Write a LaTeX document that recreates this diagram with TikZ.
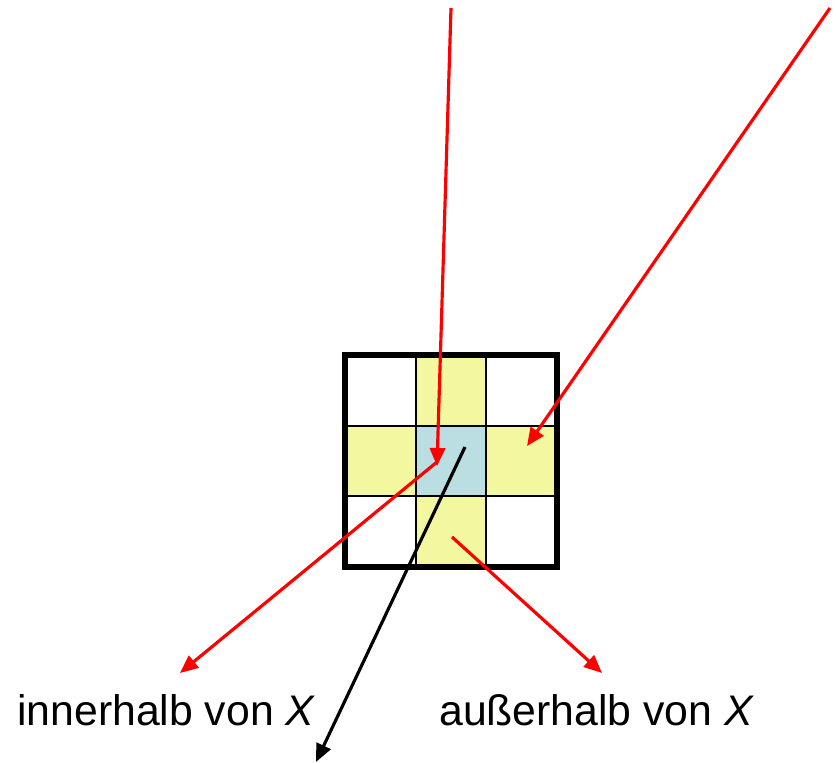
\documentclass[tikz,border=0pt]{standalone}
\usepackage{fontspec}
\setmainfont{Liberation Sans}
\usepackage{xcolor}
\usepackage{tikz}
\definecolor{clrArm}   {RGB}{243,247,160}
\definecolor{clrCentre}{RGB}{186,222,226}
\definecolor{clrRay}   {RGB}{255,0,0}
\usetikzlibrary{arrows.meta,positioning}

\begin{document}
\begin{tikzpicture}[
  x=0.03cm, y=-0.03cm,                       % one unit = one pixel
  every node/.style = {font=\fontsize{36.5}{44}\selectfont},
  %--- styles --------------------------------------------------------
  labelst/.style  = {inner sep=0pt, anchor=base west},
  armst/.style    = {fill=clrArm},
  centrest/.style = {fill=clrCentre},
  gridst/.style   = {draw=black, line width=1.7pt},
  framest/.style  = {draw=black, line width=4.8pt},
  ray/.style      = {-{Triangle[length=0.54cm,width=0.46cm]},
                     line width=2.7pt, color=clrRay},
  blackray/.style = {-{Triangle[length=0.54cm,width=0.46cm]},
                     line width=2.7pt, color=black},
]
\useasboundingbox (0,0) rectangle (836,763);

% ---- Cells --------------------------------------------------------
\fill[armst]    (416,355) rectangle (486,426);
\fill[armst]    (345,426) rectangle (416,496);
\fill[armst]    (486,426) rectangle (557,496);
\fill[armst]    (416,496) rectangle (486,567);
\fill[centrest] (416,426) rectangle (486,496);

\draw[gridst] (416,355) -- (416,567);
\draw[gridst] (486,355) -- (486,567);
\draw[gridst] (345,426) -- (557,426);
\draw[gridst] (345,496) -- (557,496);
\draw[framest] (345,355) rectangle (557,567);

% ---- Labels -------------------------------------------------------
\node[labelst] (inside)  at (17,725)  {innerhalb von \textit{X}};
\node[labelst] (outside) at (439,725) {außerhalb von \textit{X}};

% ---- Ray points ---------------------------------------------------
\coordinate (srcA) at (451,8);
\coordinate (hitA) at (437,466);
\coordinate (srcB) at (830,8);
\coordinate (hitB) at (527,446);
\coordinate (refl) at (437,462);
\coordinate (toIn) at (180,673);
\coordinate (bout) at (452,537);
\coordinate (toOut) at (602,673);
\coordinate (bin)  at (465,447);
\coordinate (down) at (316,762);

% ---- Arrows -------------------------------------------------------
\draw[ray]      (srcA) -- (hitA);
\draw[ray]      (srcB) -- (hitB);
\draw[ray]      (refl) -- (toIn);
\draw[ray]      (bout) -- (toOut);
\draw[blackray] (bin)  -- (down);

\end{tikzpicture}
\end{document}
